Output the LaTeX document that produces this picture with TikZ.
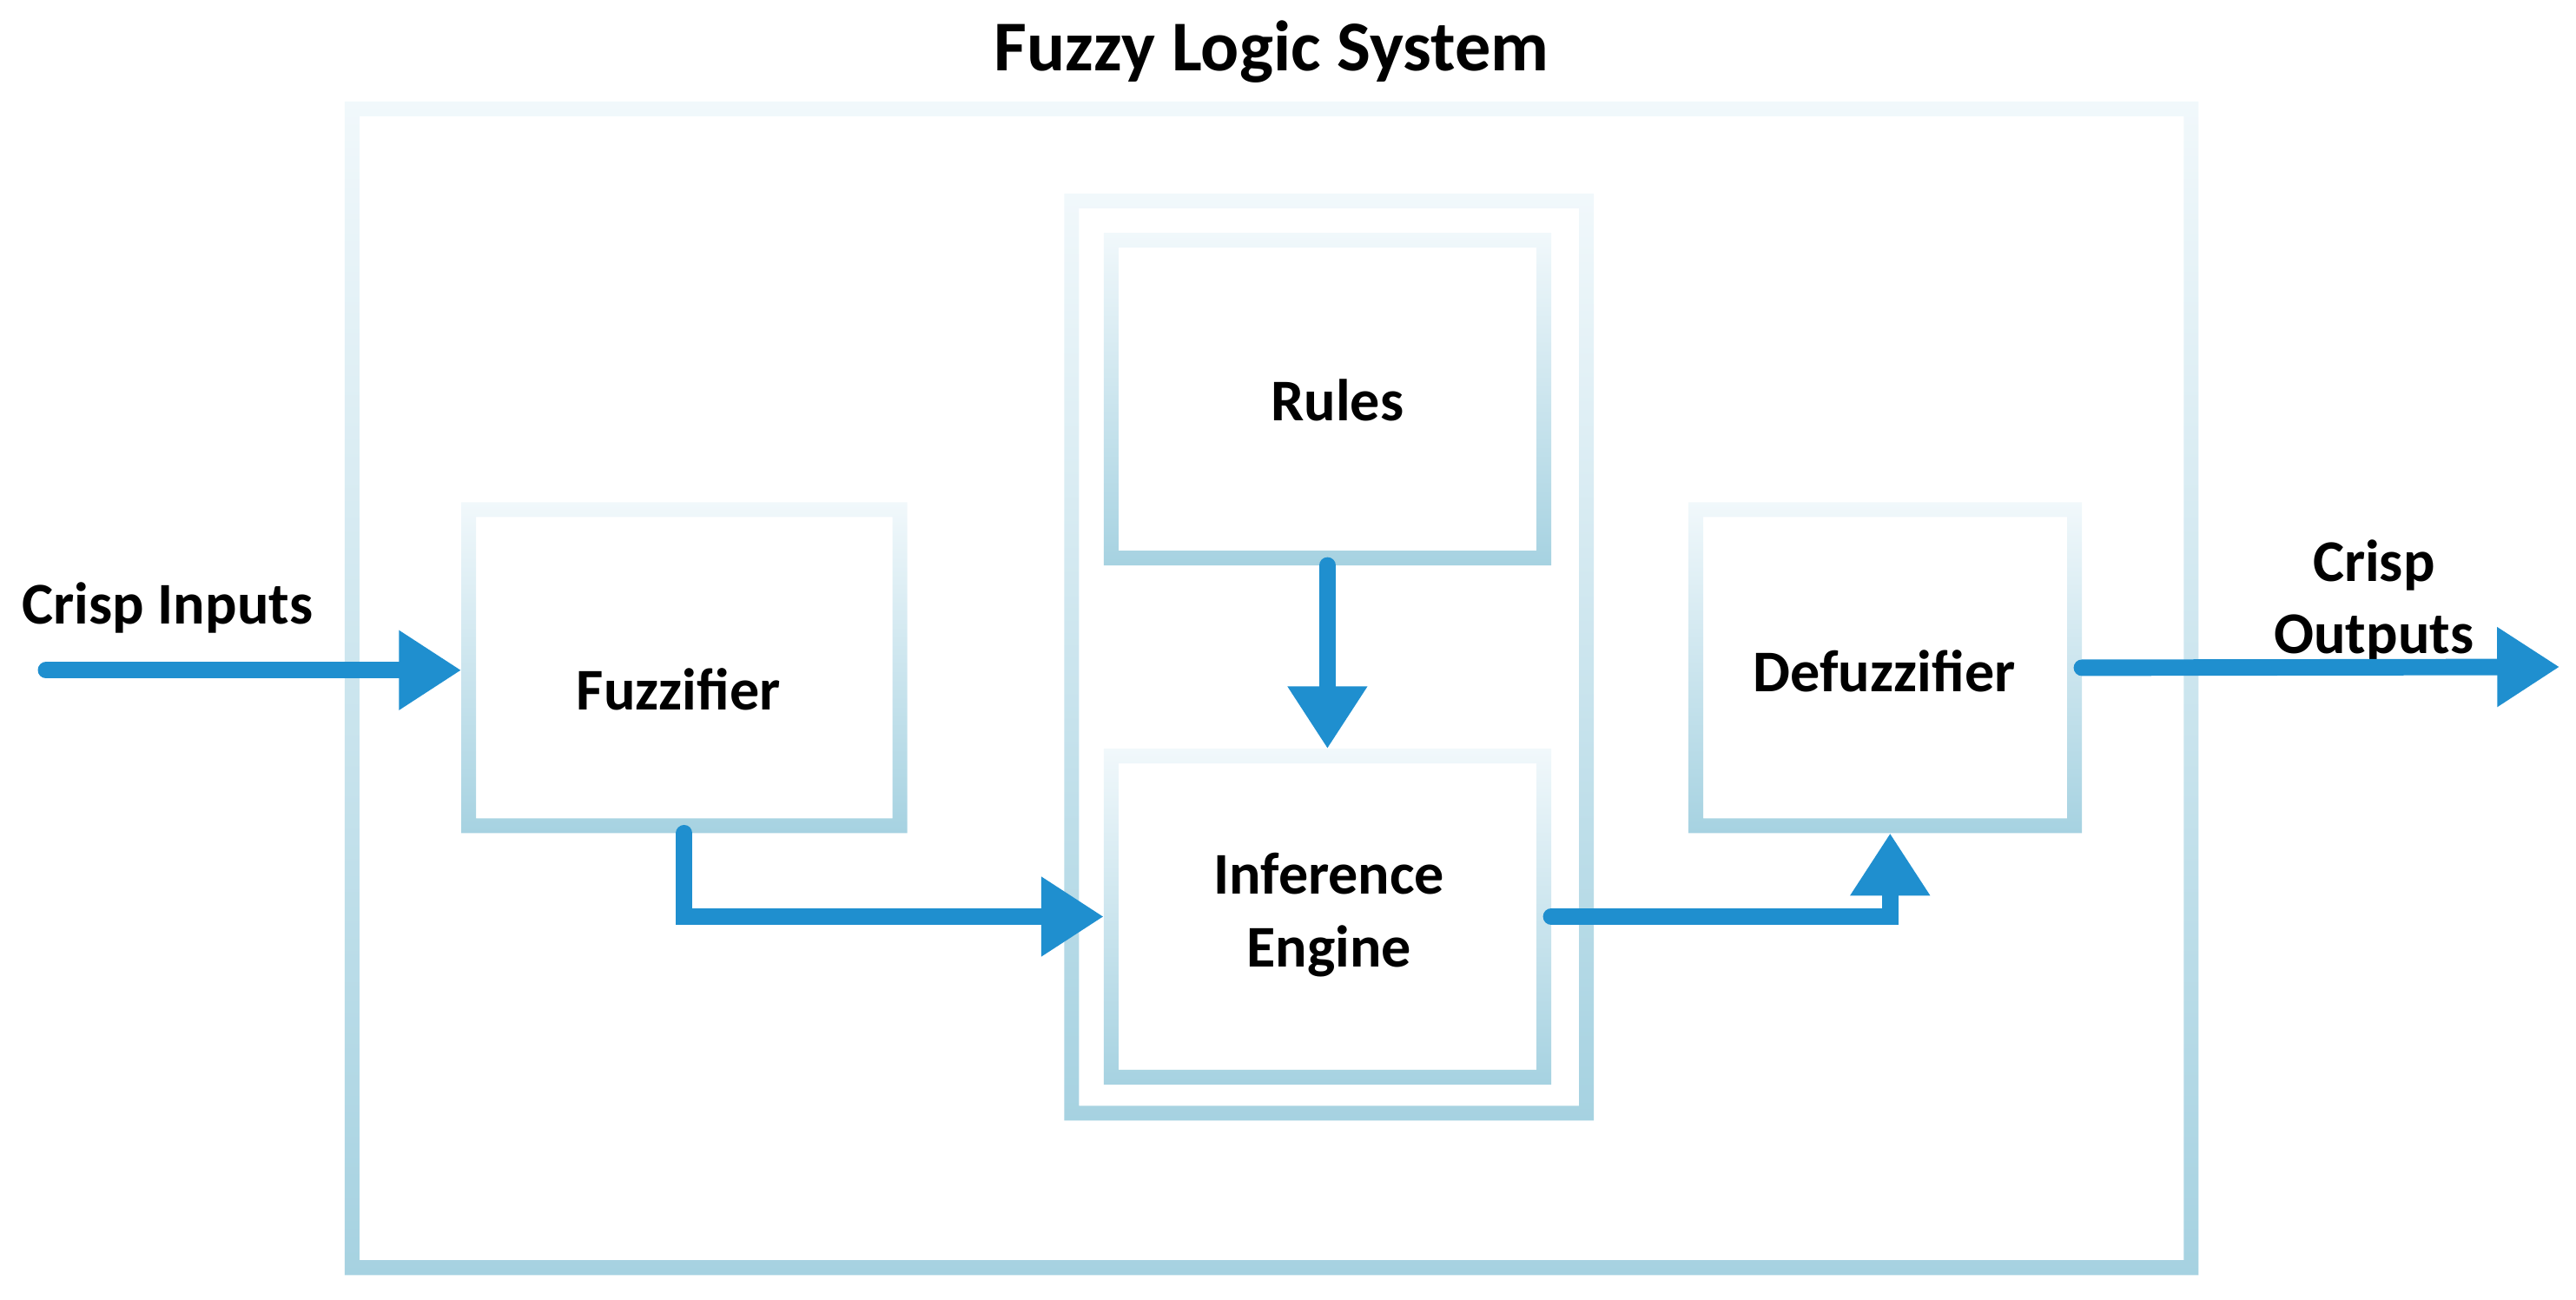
\documentclass[tikz,border=0pt]{standalone}
\usepackage{fontspec}
\setmainfont{Carlito}
\usetikzlibrary{arrows.meta}
\definecolor{arrowblue}{RGB}{31,143,207}
\definecolor{frametop}{RGB}{241,248,251}
\definecolor{framemid}{RGB}{200,228,237}
\definecolor{framebot}{RGB}{166,210,225}
\newcommand\fuzzyframe[2][9]{%
  \shade[top color=frametop, middle color=framemid, bottom color=framebot, even odd rule]
    (#2.north west) rectangle (#2.south east)
    ([shift={(#1,#1)}]#2.north west) rectangle ([shift={(-#1,-#1)}]#2.south east);}
\begin{document}
\begin{tikzpicture}[x=1pt,y=-1pt,
  boxarea/.style={rectangle, draw=none, inner sep=0pt},
  lbl/.style={font=\fontsize{36pt}{44pt}\selectfont\bfseries, inner sep=0pt, align=center},
  ttl/.style={font=\fontsize{43.5pt}{52pt}\selectfont\bfseries, inner sep=0pt},
  flow/.style={draw=arrowblue, line width=10pt, line cap=round, line join=miter,
    -{Triangle[width=46pt,length=38pt]}}]
\useasboundingbox (0,0) rectangle (1568,791);
% box areas (outer edges of the frames)
\node[boxarea, minimum width=1128pt, minimum height=714pt] (sys)   at (774,419) {};
\node[boxarea, minimum width=271pt,  minimum height=201pt] (fuzz)  at (416.5,406.5) {};
\node[boxarea, minimum width=322pt,  minimum height=564pt] (core)  at (809,400) {};
\node[boxarea, minimum width=272pt,  minimum height=202pt] (rules) at (808,243) {};
\node[boxarea, minimum width=272pt,  minimum height=204pt] (infer) at (808,558) {};
\node[boxarea, minimum width=239pt,  minimum height=201pt] (defuz) at (1147.5,406.5) {};
% frames
\fuzzyframe{sys}
\fuzzyframe{fuzz}
\fuzzyframe{core}
\fuzzyframe{rules}
\fuzzyframe{infer}
\fuzzyframe{defuz}
% labels
\node[ttl, anchor=base] (title) at (774,43) {Fuzzy Logic System};
\node[lbl, anchor=base] (inlbl) at (102,380) {Crisp Inputs};
\node[lbl] (outlbl) at (1445,366) {Crisp\\Outputs};
\node[lbl, anchor=base] (fuzztxt) at (413,432) {Fuzzifier};
\node[lbl, anchor=base] (rulestxt) at (814,256) {Rules};
\node[lbl] (infertxt) at (809,557) {Inference\\Engine};
\node[lbl, anchor=base] (defuztxt) at (1147,421) {Defuzzifier};
% connectors
\coordinate (instart) at (28,408);
\coordinate (outtip) at (1558,406);
\draw[flow] (instart) -- (instart -| fuzz.west);
\draw[flow] (rules.south) -- (infer.north);
\draw[flow] (fuzz.south) |- (infer.west);
\draw[flow] (infer.east) -| ([xshift=3pt]defuz.south);
\draw[flow] (defuz.east) -- (outtip);
\end{tikzpicture}
\end{document}
